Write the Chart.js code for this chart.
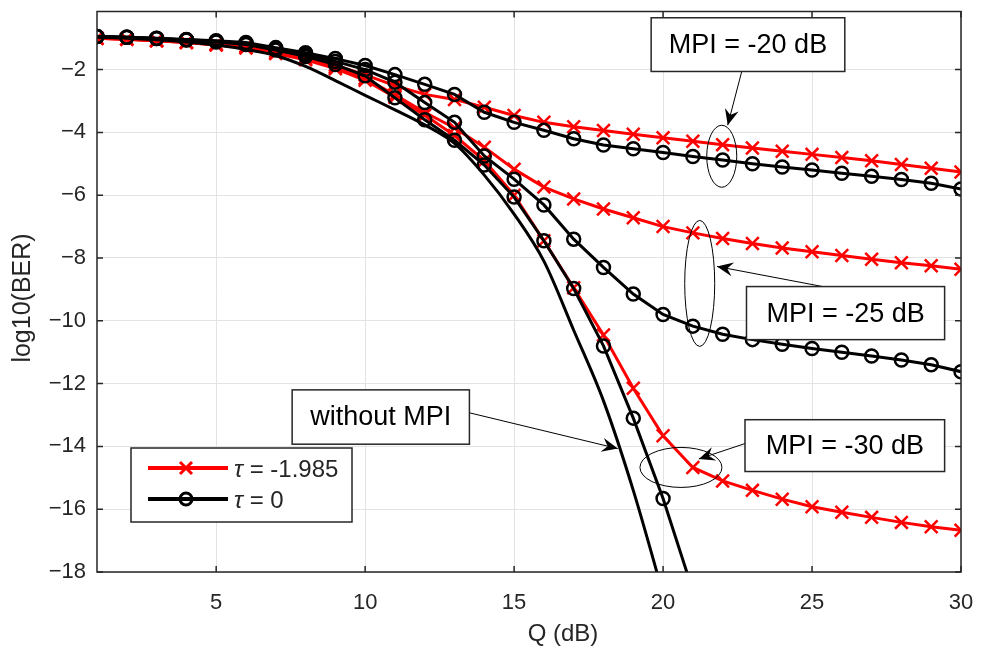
<!DOCTYPE html>
<html>
<head>
<meta charset="utf-8">
<script src="https://cdn.jsdelivr.net/npm/chart.js@4.4.1/dist/chart.umd.min.js"></script>
<style>
  html, body { margin: 0; padding: 0; background: #fff; }
  canvas { display: block; }
</style>
</head>
<body>
<canvas id="canvas-ber" width="982" height="659"></canvas>
<script>
// Q (dB) sample points
const qDb = [1, 2, 3, 4, 5, 6, 7, 8, 9, 10, 11, 12, 13, 14, 15, 16, 17, 18, 19, 20, 21, 22, 23, 24, 25, 26, 27, 28, 29, 30];

// log10(BER), tau = -1.985 (red)
const red20 = [-1.00, -1.03, -1.07, -1.12, -1.18, -1.25, -1.42, -1.60, -1.86, -2.17, -2.51, -2.79, -2.95, -3.20, -3.46, -3.68, -3.82, -3.94, -4.06, -4.17, -4.28, -4.39, -4.50, -4.60, -4.70, -4.80, -4.90, -5.02, -5.14, -5.26];
const red25 = [-1.00, -1.03, -1.08, -1.14, -1.21, -1.30, -1.47, -1.66, -1.93, -2.28, -2.80, -3.36, -3.86, -4.47, -5.17, -5.74, -6.12, -6.44, -6.72, -7.00, -7.20, -7.38, -7.54, -7.68, -7.80, -7.92, -8.04, -8.15, -8.25, -8.36];
const red30 = [-1.00, -1.03, -1.08, -1.14, -1.22, -1.31, -1.49, -1.69, -1.97, -2.34, -2.88, -3.45, -4.10, -4.90, -6.00, -7.45, -8.95, -10.45, -12.15, -13.66, -14.67, -15.10, -15.40, -15.68, -15.92, -16.10, -16.26, -16.42, -16.56, -16.67];

// log10(BER), tau = 0 (black)
const black20 = [-0.95, -0.97, -1.00, -1.04, -1.08, -1.14, -1.30, -1.46, -1.65, -1.87, -2.16, -2.47, -2.79, -3.36, -3.68, -3.93, -4.20, -4.40, -4.52, -4.64, -4.77, -4.88, -5.00, -5.10, -5.20, -5.30, -5.40, -5.50, -5.62, -5.80];
const black25 = [-0.95, -0.97, -1.01, -1.05, -1.10, -1.17, -1.34, -1.52, -1.74, -2.00, -2.40, -3.05, -3.68, -4.75, -5.49, -6.31, -7.40, -8.30, -9.15, -9.80, -10.17, -10.43, -10.60, -10.75, -10.88, -11.00, -11.12, -11.25, -11.40, -11.62];
const black30 = [-0.95, -0.97, -1.01, -1.06, -1.12, -1.20, -1.38, -1.58, -1.84, -2.20, -2.90, -3.60, -4.25, -5.04, -6.06, -7.45, -8.97, -10.80, -13.10, -15.66, -18.60];

// without MPI (plain line)
const noMpi = [-0.97, -1.00, -1.05, -1.12, -1.22, -1.36, -1.55, -1.90, -2.35, -2.82, -3.28, -3.76, -4.35, -5.36, -6.60, -8.10, -10.30, -12.55, -15.40, -18.70];

const xTicks = [5, 10, 15, 20, 25, 30];
const yTicks = [-18, -16, -14, -12, -10, -8, -6, -4, -2];

const FONT = "'Liberation Sans', Arial, Helvetica, sans-serif";
const AXIS_COLOR = '#262626';

function pts(vals) {
  return vals.map((v, i) => ({ x: qDb[i], y: v }));
}

function redSet(label, vals) {
  return {
    label: label, data: pts(vals), order: 2,
    borderColor: '#ff0000', borderWidth: 3,
    pointStyle: 'crossRot', pointRadius: 9, pointBorderWidth: 2.5,
    pointBorderColor: '#ff0000', pointBackgroundColor: '#ff0000'
  };
}

function blackSet(label, vals) {
  return {
    label: label, data: pts(vals), order: 1,
    borderColor: '#000000', borderWidth: 3,
    pointStyle: 'circle', pointRadius: 6.5, pointBorderWidth: 2.5,
    pointBorderColor: '#000000', pointBackgroundColor: 'rgba(0,0,0,0)'
  };
}

// annotations, in data units
const textBoxes = [
  { text: 'MPI = -20 dB', x0: 19.6, x1: 26.1, y0: -0.35, y1: -2.06 },
  { text: 'MPI = -25 dB', x0: 22.8, x1: 29.45, y0: -8.91, y1: -10.6 },
  { text: 'MPI = -30 dB', x0: 22.75, x1: 29.45, y0: -13.15, y1: -14.8 },
  { text: 'without MPI', x0: 7.55, x1: 13.5, y0: -12.2, y1: -13.93 }
];
const ellipses = [
  { x: 21.97, y: -4.76, rx: 15, ry: 31 },
  { x: 21.23, y: -8.81, rx: 15, ry: 63 },
  { x: 20.6, y: -14.67, rx: 41, ry: 20 }
];
const arrows = [
  { x0: 22.64, y0: -2.06, x1: 22.17, y1: -3.77 },
  { x0: 25.36, y0: -8.91, x1: 21.81, y1: -8.27 },
  { x0: 22.75, y0: -13.91, x1: 21.2, y1: -14.4 },
  { x0: 13.5, y0: -12.93, x1: 18.48, y1: -14.07 }
];

function drawArrow(ctx, x0, y0, x1, y1) {
  ctx.beginPath();
  ctx.moveTo(x0, y0);
  ctx.lineTo(x1, y1);
  ctx.stroke();
  const ang = Math.atan2(y1 - y0, x1 - x0);
  const L = 16, W = 7;
  ctx.save();
  ctx.translate(x1, y1);
  ctx.rotate(ang);
  ctx.beginPath();
  ctx.moveTo(0, 0);
  ctx.lineTo(-L, -W);
  ctx.lineTo(-L * 0.65, 0);
  ctx.lineTo(-L, W);
  ctx.closePath();
  ctx.fill();
  ctx.restore();
}

const overlay = {
  id: 'overlay',
  afterDraw(chart) {
    const ctx = chart.ctx;
    const a = chart.chartArea;
    const sx = chart.scales.x, sy = chart.scales.y;
    ctx.save();

    // axes box + inward ticks
    ctx.strokeStyle = AXIS_COLOR;
    ctx.lineWidth = 1.5;
    ctx.strokeRect(a.left, a.top, a.right - a.left, a.bottom - a.top);
    ctx.beginPath();
    xTicks.forEach(v => {
      const px = sx.getPixelForValue(v);
      ctx.moveTo(px, a.bottom); ctx.lineTo(px, a.bottom - 6);
      ctx.moveTo(px, a.top); ctx.lineTo(px, a.top + 6);
    });
    yTicks.forEach(v => {
      const py = sy.getPixelForValue(v);
      ctx.moveTo(a.left, py); ctx.lineTo(a.left + 6, py);
      ctx.moveTo(a.right, py); ctx.lineTo(a.right - 6, py);
    });
    ctx.stroke();

    // ellipses
    ctx.strokeStyle = '#000';
    ctx.lineWidth = 1;
    ellipses.forEach(e => {
      ctx.beginPath();
      ctx.ellipse(sx.getPixelForValue(e.x), sy.getPixelForValue(e.y), e.rx, e.ry, 0, 0, Math.PI * 2);
      ctx.stroke();
    });

    // arrows
    ctx.fillStyle = '#000';
    arrows.forEach(r => {
      drawArrow(ctx, sx.getPixelForValue(r.x0), sy.getPixelForValue(r.y0),
        sx.getPixelForValue(r.x1), sy.getPixelForValue(r.y1));
    });

    // text boxes
    ctx.font = '27px ' + FONT;
    ctx.textAlign = 'center';
    ctx.textBaseline = 'middle';
    textBoxes.forEach(b => {
      const l = sx.getPixelForValue(b.x0), r = sx.getPixelForValue(b.x1);
      const t = sy.getPixelForValue(b.y0), btm = sy.getPixelForValue(b.y1);
      ctx.fillStyle = '#fff';
      ctx.fillRect(l, t, r - l, btm - t);
      ctx.strokeStyle = AXIS_COLOR;
      ctx.lineWidth = 1.5;
      ctx.strokeRect(l, t, r - l, btm - t);
      ctx.fillStyle = '#000';
      ctx.fillText(b.text, (l + r) / 2, (t + btm) / 2 + 1);
    });

    // legend
    const lg = { l: 131, t: 448, w: 221, h: 74 };
    ctx.fillStyle = '#fff';
    ctx.fillRect(lg.l, lg.t, lg.w, lg.h);
    ctx.strokeStyle = AXIS_COLOR;
    ctx.lineWidth = 1.5;
    ctx.strokeRect(lg.l, lg.t, lg.w, lg.h);
    const entries = [
      { color: '#ff0000', marker: 'x', text: ' = -1.985', y: lg.t + 20 },
      { color: '#000000', marker: 'o', text: ' = 0', y: lg.t + 51 }
    ];
    entries.forEach(en => {
      ctx.strokeStyle = en.color;
      ctx.lineWidth = 4;
      ctx.beginPath();
      ctx.moveTo(lg.l + 17, en.y);
      ctx.lineTo(lg.l + 97, en.y);
      ctx.stroke();
      const mx = lg.l + 55;
      ctx.lineWidth = 3;
      ctx.beginPath();
      if (en.marker === 'x') {
        ctx.moveTo(mx - 6, en.y - 6); ctx.lineTo(mx + 6, en.y + 6);
        ctx.moveTo(mx + 6, en.y - 6); ctx.lineTo(mx - 6, en.y + 6);
      } else {
        ctx.arc(mx, en.y, 6, 0, Math.PI * 2);
      }
      ctx.stroke();
      ctx.fillStyle = AXIS_COLOR;
      ctx.textAlign = 'left';
      ctx.font = 'italic 24px ' + FONT;
      ctx.fillText('\u03C4', lg.l + 103, en.y + 2);
      const tw = ctx.measureText('\u03C4').width;
      ctx.font = '24px ' + FONT;
      ctx.fillText(en.text, lg.l + 103 + tw, en.y + 2);
    });

    // axis titles
    ctx.fillStyle = AXIS_COLOR;
    ctx.font = '24px ' + FONT;
    ctx.textAlign = 'center';
    ctx.textBaseline = 'middle';
    ctx.fillText('Q (dB)', 563, 634);
    ctx.translate(23, 298);
    ctx.rotate(-Math.PI / 2);
    ctx.font = '25px ' + FONT;
    ctx.fillText('log10(BER)', 0, 0);

    ctx.restore();
  }
};

const minusSign = (v) => String(v).replace('-', '\u2212');

const chartBer = document.getElementById('canvas-ber');

new Chart(chartBer, {
  type: 'line',
  data: {
    datasets: [
      redSet('MPI -20, tau -1.985', red20),
      blackSet('MPI -20, tau 0', black20),
      redSet('MPI -25, tau -1.985', red25),
      blackSet('MPI -25, tau 0', black25),
      redSet('MPI -30, tau -1.985', red30),
      blackSet('MPI -30, tau 0', black30),
      {
        label: 'without MPI', data: pts(noMpi), order: 1,
        borderColor: '#000000', borderWidth: 3, pointRadius: 0,
        cubicInterpolationMode: 'monotone'
      }
    ]
  },
  options: {
    responsive: false,
    devicePixelRatio: 1,
    animation: false,
    layout: { padding: { left: 0, top: 9, right: 21, bottom: 0 } },
    plugins: {
      legend: { display: false },
      tooltip: { enabled: false }
    },
    scales: {
      x: {
        type: 'linear',
        min: 1, max: 30,
        afterBuildTicks: (scale) => { scale.ticks = xTicks.map(v => ({ value: v })); },
        afterFit: (scale) => {
          scale.height = 87;
          scale.paddingLeft = 0;
          scale.paddingRight = 0;
        },
        grid: { color: '#e3e3e3', lineWidth: 1, drawTicks: false },
        border: { display: false },
        ticks: { color: AXIS_COLOR, padding: 18, font: { family: FONT, size: 22 }, callback: minusSign }
      },
      y: {
        type: 'linear',
        min: -18, max: -0.15,
        afterBuildTicks: (scale) => { scale.ticks = yTicks.map(v => ({ value: v })); },
        afterFit: (scale) => {
          scale.width = 97;
          scale.paddingTop = 0;
          scale.paddingBottom = 0;
        },
        grid: { color: '#e3e3e3', lineWidth: 1, drawTicks: false },
        border: { display: false },
        ticks: { color: AXIS_COLOR, padding: 11, font: { family: FONT, size: 22 }, callback: minusSign }
      }
    }
  },
  plugins: [overlay]
});
</script>
</body>
</html>
